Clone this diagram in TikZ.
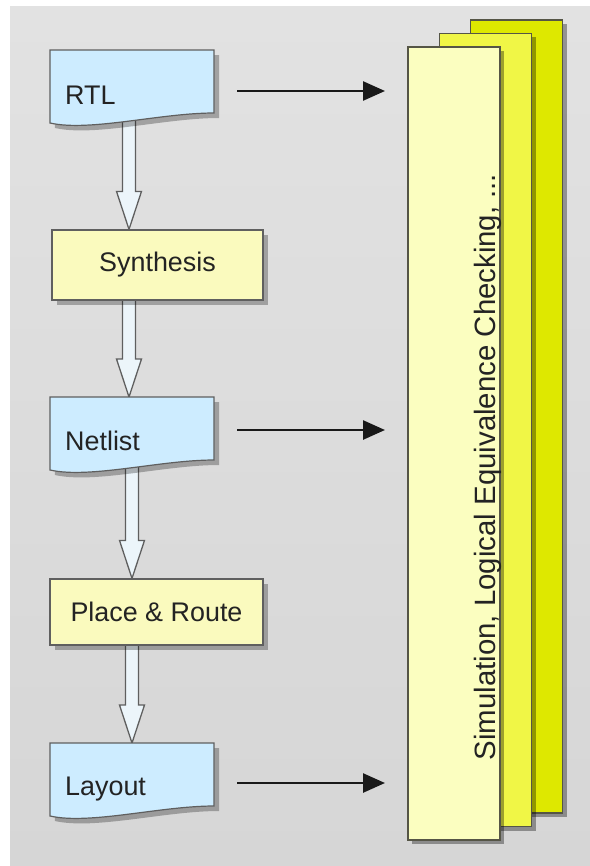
\documentclass[tikz,border=0pt]{standalone}
\usepackage{fontspec}
\setmainfont{Liberation Sans}
\usetikzlibrary{arrows.meta,calc,shadows}
\definecolor{docblue}{RGB}{205,236,255}
\definecolor{boxyel}{RGB}{250,250,190}
\definecolor{pgfront}{RGB}{251,254,192}
\definecolor{pgmid}{RGB}{240,246,70}
\definecolor{pgback}{RGB}{222,232,0}
\definecolor{edge}{RGB}{95,95,95}
\definecolor{pgedge}{RGB}{85,85,70}
\definecolor{bgtop}{RGB}{226,226,226}
\definecolor{bgmid}{RGB}{242,242,242}
\definecolor{bgbot}{RGB}{214,214,214}
\definecolor{hollowfill}{RGB}{236,245,250}
\definecolor{txt}{RGB}{35,35,35}
\pgfdeclarelayer{bg}\pgfdeclarelayer{under}\pgfsetlayers{bg,under,main}
\tikzset{
  docnode/.style={minimum width=164bp, minimum height=73bp, inner sep=0, outer sep=0},
  docshape/.style={draw=edge, line width=1.2bp, fill=docblue,
    drop shadow={shadow xshift=5bp, shadow yshift=-5bp, fill=black, opacity=.28}},
  flowtxt/.style={font=\fontsize{27}{32}\selectfont, text=txt, inner sep=0, anchor=base west},
  procbox/.style={draw=edge, line width=1.2bp, fill=boxyel, minimum width=211bp,
    minimum height=70bp, inner sep=0, font=\fontsize{27}{32}\selectfont, text=txt,
    drop shadow={shadow xshift=5bp, shadow yshift=-5bp, fill=black, opacity=.28}},
  hollowarrow/.style={draw=edge, line width=1.3bp, fill=hollowfill, line join=miter},
  feed/.style={line width=2.6bp, draw=black!90, -{Triangle[length=22bp,width=19bp]},
    shorten <=23bp, shorten >=23bp},
  pagebox/.style={draw=pgedge, line width=1.5bp, inner sep=0, outer sep=0,
    minimum width=92bp, minimum height=793bp,
    drop shadow={shadow xshift=4bp, shadow yshift=-4bp, fill=black, opacity=.35}},
}
\newcommand\docshape[1]{\path[docshape] (#1.north west) -- (#1.north east) --
  ([yshift=10bp]#1.south east) .. controls ([xshift=-54bp,yshift=10bp]#1.south east)
  and ([xshift=40bp,yshift=-9bp]#1.south west) .. (#1.south west) -- cycle;}
\newcommand\hollow[3]{\begin{pgfonlayer}{under}
  \path[hollowarrow] let \p1=([xshift=#3]#1.center), \p2=(#2.north) in
  (\x1-6.5bp,\y1) -- (\x1-6.5bp,\y2+38bp) -- (\x1-12.5bp,\y2+38bp) -- (\x1,\y2)
  -- (\x1+12.5bp,\y2+38bp) -- (\x1+6.5bp,\y2+38bp) -- (\x1+6.5bp,\y1) -- cycle;
  \end{pgfonlayer}}
\begin{document}
\begin{tikzpicture}[x=1bp,y=-1bp]
\useasboundingbox (0,0) rectangle (590,866);
\begin{pgfonlayer}{bg}
  \fill[white] (0,0) rectangle (590,866);
  \shade[top color=bgtop, middle color=bgmid, bottom color=bgbot] (10,6) rectangle (590,866);
\end{pgfonlayer}

% stacked pages
\node[pagebox, fill=pgback] (back) at (516.5,416.5) {};
\node[pagebox, fill=pgmid] (mid) at (485.5,430) {};
\node[pagebox, fill=pgfront] (pages) at (454,443.5) {};
\node[rotate=90, font=\fontsize{29.5}{34}\selectfont, text=txt, inner sep=0] (simtxt)
  at (488,467) {Simulation, Logical Equivalence Checking, ...};

% documents
\node[docnode] (rtl) at (132,86.5) {};
\docshape{rtl}
\node[flowtxt] (rtlt) at ([xshift=15bp,yshift=-54bp]rtl.north west) {RTL};

\node[docnode] (net) at (132,433.5) {};
\docshape{net}
\node[flowtxt] (nett) at ([xshift=15bp,yshift=-53bp]net.north west) {Netlist};

\node[docnode] (lay) at (132,779.5) {};
\docshape{lay}
\node[flowtxt] (layt) at ([xshift=15bp,yshift=-52bp]lay.north west) {Layout};

% process boxes
\node[procbox] (syn) at (157.5,265) {Synthesis};
\node[procbox, minimum width=213bp, minimum height=66bp] (pnr) at (156.5,612) {Place \& Route};

% hollow flow arrows
\hollow{rtl}{syn}{-3bp}
\hollow{syn}{net}{-28.5bp}
\hollow{net}{pnr}{0bp}
\hollow{pnr}{lay}{-24.5bp}

% feed arrows
\coordinate (f1) at ([yshift=-41bp]rtl.north east);
\coordinate (f2) at ([yshift=-33bp]net.north east);
\coordinate (f3) at ([yshift=-40bp]lay.north east);
\draw[feed] (f1) -- (f1 -| pages.west);
\draw[feed] (f2) -- (f2 -| pages.west);
\draw[feed] (f3) -- (f3 -| pages.west);
\end{tikzpicture}
\end{document}
